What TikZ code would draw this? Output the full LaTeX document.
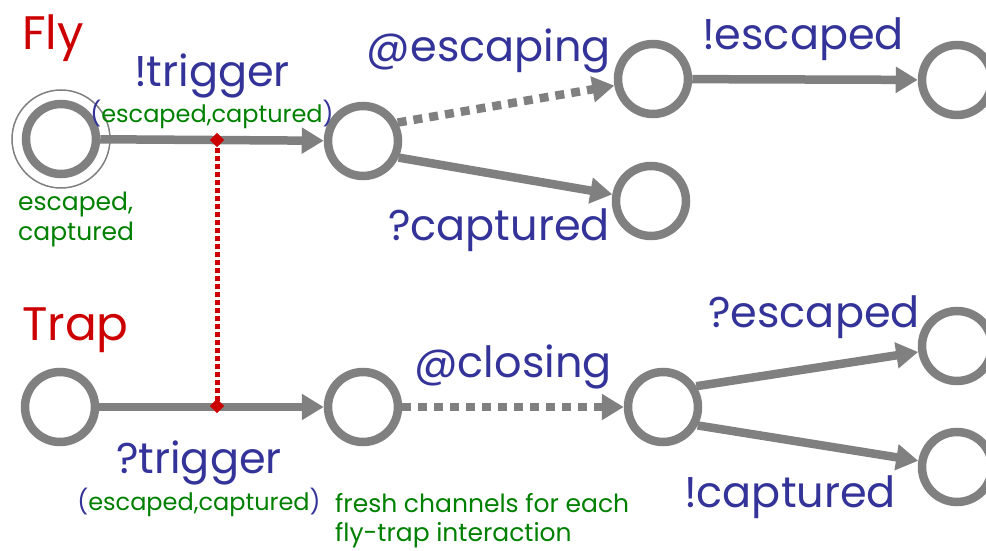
\documentclass[tikz,border=0pt]{standalone}
\usepackage{fontspec}
\setmainfont{Poppins}
\usetikzlibrary{arrows.meta,shapes.geometric}
\definecolor{stategray}{RGB}{128,128,128}
\definecolor{chanblue}{RGB}{51,51,153}
\definecolor{pargreen}{RGB}{0,128,0}
\definecolor{procred}{RGB}{204,0,0}
\newcommand{\chanargs}{\textcolor{chanblue}{(}escaped,captured\textcolor{chanblue}{)}}
\begin{document}
\begin{tikzpicture}[x=1pt,y=-1pt,
  state/.style={circle, draw=stategray, line width=8.5pt, minimum size=70pt, inner sep=0pt},
  trans/.style={draw=stategray, line width=8.5pt, -{Triangle[length=22pt,width=25pt]}},
  dtrans/.style={trans, dash pattern=on 9pt off 7pt},
  sync/.style={draw=procred, line width=5pt, dash pattern=on 4.5pt off 3.5pt},
  joint/.style={diamond, fill=procred, minimum size=14pt, inner sep=0pt},
  act/.style={text=chanblue, font=\fontsize{43}{43}\selectfont, anchor=base, inner sep=0pt},
  proc/.style={text=procred, font=\fontsize{47}{47}\selectfont, anchor=base west, inner sep=0pt},
  args/.style={text=pargreen, font=\fontsize{24}{24}\selectfont, anchor=base, inner sep=0pt},
  note/.style={text=pargreen, font=\fontsize{25}{25}\selectfont, anchor=base west, inner sep=0pt}
]
\useasboundingbox (0,0) rectangle (986,551);

% Fly automaton
\node[state] (f1) at (61,139) {};
\node[circle, draw=stategray, line width=1.5pt, minimum size=98pt, inner sep=0pt] (f1o) at (61,139) {};
\node[state] (f2) at (363,141) {};
\node[state] (f3) at (653,79) {};
\node[state] (f4) at (651,201) {};
\node[state] (f5) at (957,80) {};

% Trap automaton
\node[state] (t1) at (60,407) {};
\node[state] (t2) at (363,407) {};
\node[state] (t3) at (663,407) {};
\node[state] (t4) at (957,346) {};
\node[state] (t5) at (957,467) {};

% transitions
\draw[trans] (f1) -- (f2);
\draw[dtrans] (f2.28) -- (f3);
\draw[trans] (f2.-25) -- (f4);
\draw[trans] (f3) -- (f5);
\draw[trans] (t1) -- (t2);
\draw[dtrans] (t2) -- (t3);
\draw[trans] (t3.32) -- (t4);
\draw[trans] (t3.-28) -- (t5);

% synchronisation between the two trigger transitions
\node[joint] (j1) at (217,140) {};
\node[joint] (j2) at (217,406) {};
\draw[sync] (j1.center) -- (j2.center);
\node[joint] at (j1) {};
\node[joint] at (j2) {};

% process names
\node[proc] (fly) at (22,50) {Fly};
\node[proc] (trap) at (22,340) {Trap};

% labels
\node[act] (l1) at (212,87) {!trigger};
\node[args] (a1) at (212,122) {\chanargs};
\node[note] (init1) at (18,210) {escaped,};
\node[note] (init2) at (18,240) {captured};
\node[act] (l2) at (489,62) {@escaping};
\node[act] (l3) at (803,50) {!escaped};
\node[act] (l4) at (499,240) {?captured};
\node[act] (l5) at (199,473) {?trigger};
\node[args] (a2) at (199,510) {\chanargs};
\node[note] (fresh1) at (335,512) {fresh channels for each};
\node[note] (fresh2) at (335,541) {fly-trap interaction};
\node[act] (l6) at (513,377) {@closing};
\node[act] (l7) at (814,327) {?escaped};
\node[act] (l8) at (790,507) {!captured};
\end{tikzpicture}
\end{document}
